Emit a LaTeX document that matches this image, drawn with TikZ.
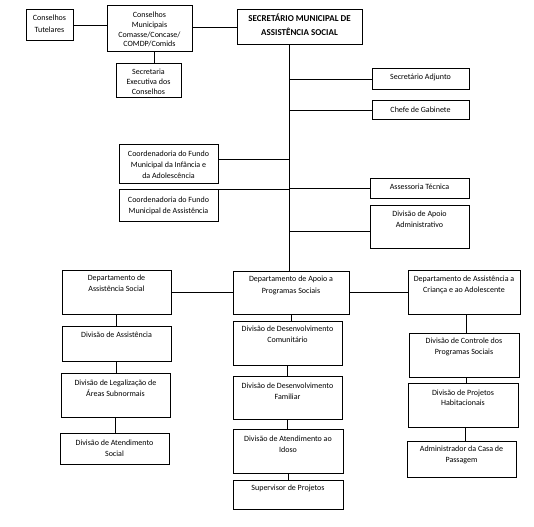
\documentclass[tikz,border=0pt]{standalone}
\usepackage{fontspec}
\setmainfont{Carlito}
\tikzset{
  box/.style={draw=black, line width=1pt, inner sep=0pt, outer sep=0pt, anchor=north west},
  txt/.style={inner sep=0pt, outer sep=0pt, align=center, anchor=north, font=\fontsize{8}{11}\selectfont},
  title/.style={txt, font=\fontsize{9}{14}\selectfont\bfseries},
  conn/.style={draw=black, line width=1pt},
}
% \orgbox[text style]{name}{x1}{y1}{x2}{y2}{baseline offset}{text}
\newcommand\orgbox[8][txt]{%
  \node[box, minimum width={(#5-#3)*1pt}, minimum height={(#6-#4)*1pt}] (#2) at (#3,#4) {};%
  \node[#1] (#2-t) at ([yshift={-(#7-9)*1pt}]#2.north) {\rule{0pt}{9pt}#8};%
}
\begin{document}
\begin{tikzpicture}[x=1pt, y=-1pt]
\useasboundingbox[fill=white] (0,0) rectangle (534,526);

\orgbox[txt, font=\fontsize{8}{12}\selectfont]{tut}{26}{10}{73}{41}{10.5}{Conselhos\\Tutelares}
\orgbox[txt, font=\fontsize{8}{9.6}\selectfont]{mun}{107}{6}{192}{52}{12}{Conselhos\\Municipais\\Comasse/Concase/\\COMDP/Comids}
\orgbox[txt, font=\fontsize{8}{10}\selectfont]{exec}{116}{64}{181}{98}{10.5}{Secretaria\\Executiva dos\\Conselhos}
\orgbox[title]{sec}{237}{10}{362}{45}{12}{SECRETÁRIO MUNICIPAL DE\\ASSISTÊNCIA SOCIAL}
\orgbox{adj}{372}{69}{469}{90}{11}{Secretário Adjunto}
\orgbox{chefe}{372}{101}{469}{120}{11.5}{Chefe de Gabinete}
\orgbox{inf}{119}{145}{218}{184}{11.5}{Coordenadoria do Fundo\\Municipal da Infância e\\da Adolescência}
\orgbox{cass}{119}{190}{218}{222}{12.5}{Coordenadoria do Fundo\\Municipal de Assistência}
\orgbox{asst}{370}{179}{469}{199}{10.5}{Assessoria Técnica}
\orgbox{apadm}{370}{206}{469}{248}{10.5}{Divisão de Apoio\\Administrativo}
\orgbox{dass}{62}{270}{171}{314}{10.5}{Departamento de\\Assistência Social}
\orgbox[txt, font=\fontsize{8}{12}\selectfont]{dapo}{233}{271}{349}{314}{10}{Departamento de Apoio a\\Programas Sociais}
\orgbox{dcri}{408}{270}{520}{314}{11.5}{Departamento de Assistência a\\Criança e ao Adolescente}
\orgbox{divass}{62}{326}{171}{361}{11.5}{Divisão de Assistência}
\orgbox{legal}{61}{373}{170}{417}{12.5}{Divisão de Legalização de\\Áreas Subnormais}
\orgbox[txt, font=\fontsize{8}{10.5}\selectfont]{atsoc}{60}{433}{169}{464}{12.5}{Divisão de Atendimento\\Social}
\orgbox{comu}{233}{321}{342}{365}{10.5}{Divisão de Desenvolvimento\\Comunitário}
\orgbox{fami}{233}{376}{342}{419}{12.5}{Divisão de Desenvolvimento\\Familiar}
\orgbox{idoso}{233}{429}{343}{473}{12.5}{Divisão de Atendimento ao\\Idoso}
\orgbox{sup}{233}{480}{343}{509}{10.5}{Supervisor de Projetos}
\orgbox{ctrl}{409}{333}{519}{377}{10.5}{Divisão de Controle dos\\Programas Sociais}
\orgbox[txt, font=\fontsize{8}{10.5}\selectfont]{proj}{408}{383}{518}{427}{12}{Divisão de Projetos\\Habitacionais}
\orgbox[txt, font=\fontsize{8}{10.5}\selectfont]{adm}{407}{441}{516}{477}{10.5}{Administrador da Casa de\\Passagem}

\coordinate (spine) at (289,0);

% top connectors
\draw[conn] (tut.east) -- (tut.east -| mun.west);
\draw[conn] (mun.east |- sec.west) -- (sec.west);
\draw[conn] ([xshift=5pt]mun.south) -- ([xshift=5pt]mun.south |- exec.north);

% spine
\draw[conn] (spine |- sec.south) -- (spine |- dapo.north);
\draw[conn] (spine |- adj.west) -- (adj.west);
\draw[conn] (spine |- chefe.west) -- (chefe.west);
\draw[conn] ([yshift=5pt]inf.east) -- ([yshift=5pt]inf.east -| spine);
\draw[conn] (cass.north east) -- (cass.north east -| spine);
\draw[conn] (spine |- asst.west) -- (asst.west);
\draw[conn] ([yshift=-4pt]apadm.west -| spine) -- ([yshift=-4pt]apadm.west);

% departments
\draw[conn] (dass.east) -- (dass.east -| dapo.west);
\draw[conn] (dapo.east) -- (dapo.east -| dcri.west);

% left column
\draw[conn] (dass.south) -- (dass.south |- divass.north);
\draw[conn] (divass.south) -- (divass.south |- legal.north);
\draw[conn] (legal.south) -- (legal.south |- atsoc.north);

% middle column
\draw[conn] (dapo.south) -- (dapo.south |- comu.north);
\draw[conn] (comu.south) -- (comu.south |- fami.north);
\draw[conn] (fami.south) -- (fami.south |- idoso.north);
\draw[conn] (idoso.south) -- (idoso.south |- sup.north);

% right column
\draw[conn] ([xshift=2pt]dcri.south) -- ([xshift=2pt]dcri.south |- ctrl.north);
\draw[conn] ([xshift=2pt]ctrl.south) -- ([xshift=2pt]ctrl.south |- proj.north);
\draw[conn] ([xshift=2pt]proj.south) -- ([xshift=2pt]proj.south |- adm.north);
\end{tikzpicture}
\end{document}
